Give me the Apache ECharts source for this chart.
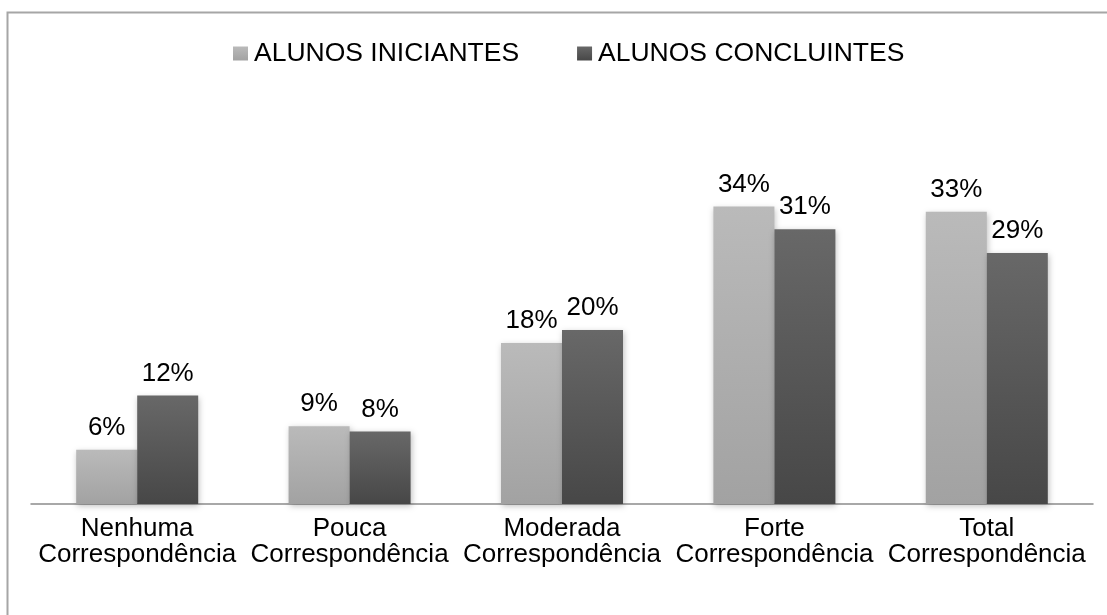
<!DOCTYPE html>
<html><head><meta charset="utf-8">
<script src="https://cdn.jsdelivr.net/npm/echarts@6/dist/echarts.min.js"></script>
<style>html,body{margin:0;padding:0;background:#fff}#c{width:1107px;height:615px}</style>
</head><body><div id="c"></div>
<script>
const categories = ['Nenhuma\nCorrespondência','Pouca\nCorrespondência','Moderada\nCorrespondência','Forte\nCorrespondência','Total\nCorrespondência'];
const iniciantes = [6.2, 8.9, 18.4, 34.0, 33.4];
const concluintes = [12.4, 8.3, 19.9, 31.4, 28.7];
const seriesNames = ['ALUNOS INICIANTES','ALUNOS CONCLUINTES'];

const chart = echarts.init(document.getElementById('c'));
const grad = (a,b)=>new echarts.graphic.LinearGradient(0,0,0,1,[{offset:0,color:a},{offset:1,color:b}]);
const FONT = 'Liberation Sans, Arial';
const lbl = {show:true,position:'top',distance:9,color:'#000',fontSize:26,fontFamily:FONT,formatter:p=>Math.round(p.value)+'%'};
chart.setOption({
  animation:false,
  graphic:[{type:'rect',shape:{x:7.5,y:12.5,width:1200,height:700},style:{fill:'none',stroke:'#a6a6a6',lineWidth:2},silent:true}],
  legend:{top:35,left:228,itemWidth:15,itemHeight:14,itemGap:58,icon:'rect',
    textStyle:{fontSize:26.5,color:'#000',fontFamily:FONT,padding:[0,0,0,1]},data:seriesNames},
  grid:{left:31,right:14,top:154,bottom:111,containLabel:false},
  xAxis:{type:'category',data:categories,axisTick:{show:false},
    axisLine:{lineStyle:{color:'#8c8c8c',width:1.5}},
    axisLabel:{fontSize:26,color:'#000',fontFamily:FONT,lineHeight:26,margin:12,interval:0}},
  yAxis:{type:'value',min:0,max:40,show:false,splitLine:{show:false}},
  series:[
    {name:seriesNames[0],type:'bar',data:iniciantes,barWidth:61,barGap:'0%',
     itemStyle:{color:grad('#bababa','#a2a2a2'),shadowColor:'rgba(0,0,0,0.25)',shadowBlur:6,shadowOffsetX:1,shadowOffsetY:2},label:lbl},
    {name:seriesNames[1],type:'bar',data:concluintes,barWidth:61,
     itemStyle:{color:grad('#686868','#474747'),shadowColor:'rgba(0,0,0,0.25)',shadowBlur:6,shadowOffsetX:1,shadowOffsetY:2},label:lbl}
  ]
});
</script></body></html>
